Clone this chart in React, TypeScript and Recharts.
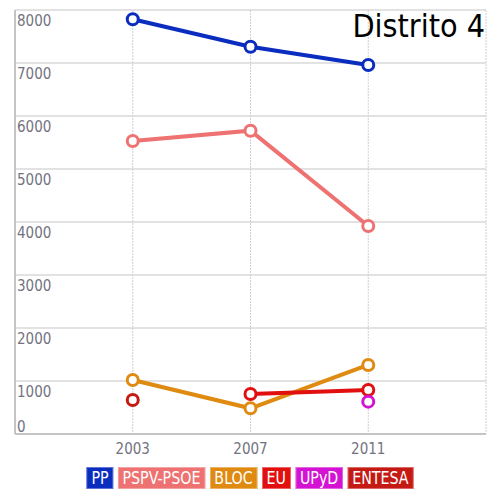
import { LineChart, CartesianGrid, XAxis, YAxis, Line } from 'recharts'

const years = [2003, 2007, 2011]
const ppVotes = [7825, 7308, 6962]
const psoeVotes = [5528, 5723, 3925]
const blocVotes = [1019, 485, 1302]
const euVotes = [null, 755, 830]
const upydVotes = [null, null, 610]
const entesaVotes = [642, null, null]

const yTicks = [0, 1000, 2000, 3000, 4000, 5000, 6000, 7000, 8000]
const xTicks = [2003, 2007, 2011, 2015]

const series = [
  { key: 'pp', name: 'PP', color: '#0a2dbf', values: ppVotes },
  { key: 'psoe', name: 'PSPV-PSOE', color: '#ee7272', values: psoeVotes },
  { key: 'bloc', name: 'BLOC', color: '#df8a10', values: blocVotes },
  { key: 'eu', name: 'EU', color: '#e20f0f', values: euVotes },
  { key: 'upyd', name: 'UPyD', color: '#d312d3', values: upydVotes },
  { key: 'entesa', name: 'ENTESA', color: '#c51a14', values: entesaVotes },
]

const data = years.map((year, i) => {
  const row: Record<string, number | null> = { year }
  series.forEach((s) => {
    row[s.key] = s.values[i]
  })
  return row
})

const narrow = '"Liberation Sans Narrow", "DejaVu Sans Condensed", sans-serif'
const labelColor = '#737380'

function YTick({ x, y, payload }: any) {
  const v = payload.value as number
  return (
    <text x={x + 2} y={v === 0 ? y - 2 : y + 16} fill={labelColor} fontSize={15} fontFamily={narrow} textAnchor="start">
      {v}
    </text>
  )
}

function XTick({ x, y, payload }: any) {
  if (!years.includes(payload.value)) return null
  return (
    <text x={x} y={y + 14} fill={labelColor} fontSize={15} fontFamily={narrow} textAnchor="middle">
      {payload.value}
    </text>
  )
}

export default function App() {
  return (
    <div style={{ position: 'absolute', left: 0, top: 0, width: 500, height: 500, background: '#fff' }}>
      <LineChart width={500} height={500} data={data} margin={{ top: 10, right: 14, bottom: 0, left: 0 }}>
        <CartesianGrid horizontal vertical={false} stroke="#d9d9d9" strokeWidth={1.5} />
        <CartesianGrid horizontal={false} vertical stroke="#cfcfcf" strokeDasharray="2 1" />
        <XAxis
          dataKey="year"
          type="number"
          domain={[1999, 2015]}
          ticks={xTicks}
          height={66}
          tickLine={false}
          tickMargin={0}
          axisLine={{ stroke: '#c4c4c4', strokeWidth: 2 }}
          tick={<XTick />}
        />
        <YAxis
          domain={[0, 8000]}
          ticks={yTicks}
          width={15}
          tickLine={false}
          tickMargin={0}
          tickSize={0}
          axisLine={{ stroke: '#c4c4c4', strokeWidth: 2 }}
          tick={<YTick />}
        />
        {series.map((s) => (
          <Line
            key={s.key}
            dataKey={s.key}
            name={s.name}
            stroke={s.color}
            strokeWidth={4}
            dot={{ r: 5.5, fill: '#fff', stroke: s.color, strokeWidth: 3 }}
            activeDot={false}
            isAnimationActive={false}
          />
        ))}
      </LineChart>
      <svg width={500} height={500} style={{ position: 'absolute', left: 0, top: 0, pointerEvents: 'none' }}>
        <text x={485} y={37} textAnchor="end" fontSize={32} fontFamily='"DejaVu Sans Condensed", "DejaVu Sans", sans-serif' fill="#000">
          Distrito 4
        </text>
      </svg>
      <div
        style={{
          position: 'absolute',
          left: 0,
          top: 467,
          width: 500,
          display: 'flex',
          justifyContent: 'center',
          gap: 5,
          transform: 'scaleX(0.93)',
          transformOrigin: 'center',
        }}
      >
        {series.map((s) => (
          <span
            key={s.key}
            style={{
              background: s.color,
              color: '#fff',
              height: 22,
              lineHeight: '22px',
              padding: '0 5px',
              fontSize: 17,
              fontFamily: narrow,
              boxShadow: 'inset 0 0 0 1px rgba(255,255,255,0.35)',
            }}
          >
            {s.name}
          </span>
        ))}
      </div>
    </div>
  )
}
